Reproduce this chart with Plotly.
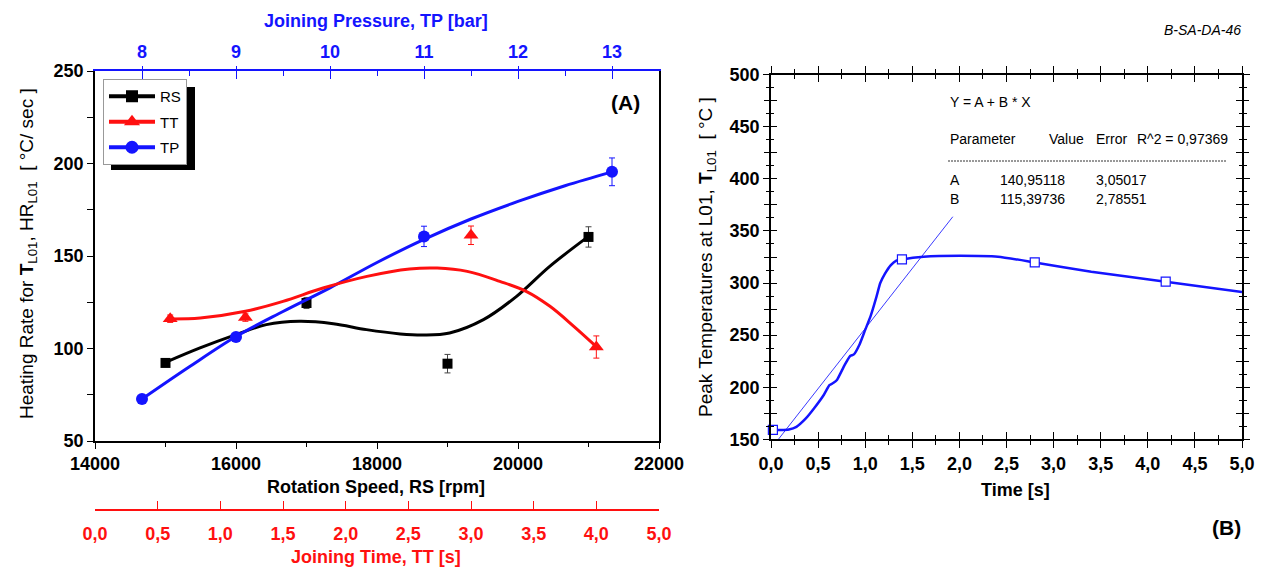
import plotly.graph_objects as go

W, H = 1266, 569
def px(x): return x / W
def py(y): return 1 - y / H

BLUE = "#1414ff"
RED = "#ff1010"
BLACK = "#000000"
FONT = "Liberation Sans, Arial, sans-serif"

# ---------------- Panel A data ----------------
rs_x = [15000, 17000, 19000, 21000]
rs_y = [92.2, 124.6, 91.8, 160.3]
rs_err = [1.5, 3.0, 5.0, 5.5]
rs_fit_x = [15000, 15490, 16000, 16430, 16900, 17380, 17850, 18330, 18660, 19030, 19510, 19980, 20450, 21000]
rs_fit_y = [92.5, 100.3, 107.5, 112.9, 114.7, 113.4, 110.2, 107.9, 107.3, 108.4, 115.6, 128.2, 144.4, 160.6]

tt_x = [0.6, 1.2, 3.0, 4.0]
tt_y = [116.1, 116.7, 161.2, 100.8]
tt_err = [2.0, 2.0, 5.0, 6.0]
tt_fit_x = [0.6, 0.84, 1.2, 1.5, 1.82, 2.17, 2.51, 2.73, 2.97, 3.23, 3.44, 3.63, 3.82, 4.0]
tt_fit_y = [116.0, 116.5, 120.1, 125.5, 132.7, 139.0, 143.0, 143.5, 141.7, 136.3, 130.9, 122.8, 112.0, 101.0]
tt_ticks = [0, 0.5, 1, 1.5, 2, 2.5, 3, 3.5, 4, 4.5]
tt_labels = ["0,0", "0,5", "1,0", "1,5", "2,0", "2,5", "3,0", "3,5", "4,0", "5,0"]

tp_x = [8, 9, 11, 13]
tp_y = [72.7, 106.2, 160.6, 195.5]
tp_err = [1.5, 1.5, 5.5, 7.5]
tp_fit_x = [8, 8.5, 9, 9.5, 10, 10.5, 11, 11.5, 12, 12.5, 13]
tp_fit_y = [72.7, 90.0, 106.5, 120.0, 132.8, 146.5, 159.0, 170.0, 179.5, 188.0, 195.5]

# ---------------- Panel B data ----------------
time_s = [0.0, 0.1, 0.19, 0.27, 0.37, 0.46, 0.56, 0.62, 0.66, 0.70, 0.78, 0.84, 0.88, 0.94,
          1.0, 1.06, 1.12, 1.16, 1.21, 1.27, 1.33, 1.39, 1.62, 2.01, 2.41, 2.80, 3.40, 4.19, 5.0]
temp_c = [159, 159, 159.5, 162, 170, 180, 192.5, 202, 204, 207, 221, 230, 231.5, 241,
          255, 269, 287, 300, 309, 317, 321.5, 322.7, 325.3, 326.2, 325.3, 319.8, 310.9, 301.3, 291.4]
mark_t = [0.02, 1.39, 2.80, 4.19]
mark_temp = [159, 322.7, 319.8, 301.3]
fit_A, fit_B = 140.95118, 115.39736
fit_t = [0.075, 1.93]
fit_temp = [fit_A + fit_B * t for t in fit_t]

fig = go.Figure()

# Panel A fitted curves
fig.add_trace(go.Scatter(x=rs_fit_x, y=rs_fit_y, mode="lines", line=dict(color=BLACK, width=3, shape="spline", smoothing=1.0),
                         xaxis="x", yaxis="y", showlegend=False, hoverinfo="skip"))
fig.add_trace(go.Scatter(x=tt_fit_x, y=tt_fit_y, mode="lines", line=dict(color=RED, width=3, shape="spline", smoothing=1.0),
                         xaxis="x3", yaxis="y", showlegend=False, hoverinfo="skip"))
fig.add_trace(go.Scatter(x=tp_fit_x, y=tp_fit_y, mode="lines", line=dict(color=BLUE, width=3, shape="spline", smoothing=1.0),
                         xaxis="x2", yaxis="y", showlegend=False, hoverinfo="skip"))
# Panel A markers
fig.add_trace(go.Scatter(x=rs_x, y=rs_y, mode="markers", marker=dict(symbol="square", size=10, color=BLACK),
                         error_y=dict(type="data", array=rs_err, color="#444", thickness=1, width=3),
                         xaxis="x", yaxis="y", showlegend=False))
fig.add_trace(go.Scatter(x=tt_x, y=tt_y, mode="markers", marker=dict(symbol="triangle-up", size=13, color=RED),
                         error_y=dict(type="data", array=tt_err, color=RED, thickness=1, width=3),
                         xaxis="x3", yaxis="y", showlegend=False))
fig.add_trace(go.Scatter(x=tp_x, y=tp_y, mode="markers", marker=dict(symbol="circle", size=12, color=BLUE),
                         error_y=dict(type="data", array=tp_err, color=BLUE, thickness=1, width=3),
                         xaxis="x2", yaxis="y", showlegend=False))
# legend entries
for name, col, sym, sz in [("RS", BLACK, "square", 12), ("TT", RED, "triangle-up", 14), ("TP", BLUE, "circle", 13)]:
    fig.add_trace(go.Scatter(x=[None], y=[None], mode="lines+markers", name=name, legendgroup=name,
                             line=dict(color=col, width=4), marker=dict(symbol=sym, size=sz, color=col),
                             xaxis="x", yaxis="y"))

# Panel B
fig.add_trace(go.Scatter(x=fit_t, y=fit_temp, mode="lines", line=dict(color="#3a3aff", width=1),
                         xaxis="x4", yaxis="y2", showlegend=False, hoverinfo="skip"))
fig.add_trace(go.Scatter(x=time_s, y=temp_c, mode="lines", line=dict(color=BLUE, width=2.5, shape="spline", smoothing=0.5),
                         xaxis="x4", yaxis="y2", showlegend=False))
fig.add_trace(go.Scatter(x=mark_t, y=mark_temp, mode="markers",
                         marker=dict(symbol="square", size=9, color="white", line=dict(color=BLUE, width=1.2)),
                         xaxis="x4", yaxis="y2", showlegend=False, cliponaxis=False))
# invisible traces for the extra tick-only axes
for xa, ya in [("x5", "y2"), ("x4", "y3"), ("x4", "y4"), ("x6", "y")]:
    fig.add_trace(go.Scatter(x=[None], y=[None], xaxis=xa, yaxis=ya, showlegend=False))

tickf = dict(family=FONT, size=18, color=BLACK, weight="bold")
domA_x = [px(95), px(659)]
domA_y = [py(441), py(71)]
domB_x = [px(771), px(1242)]
domB_y = [py(439.3), py(74.7)]

common = dict(showgrid=False, zeroline=False, automargin=False)
b_xt = [0, 0.5, 1, 1.5, 2, 2.5, 3, 3.5, 4, 4.5, 5]
b_ylab = [150, 200, 250, 300, 350, 400, 450, 500]
b_yt = [150, 175, 200, 225, 250, 275, 300, 325, 350, 375, 400, 425, 450, 475, 500]

fig.update_layout(
    width=W, height=H, margin=dict(l=0, r=0, t=0, b=0, autoexpand=False),
    paper_bgcolor="white", plot_bgcolor="rgba(0,0,0,0)",
    separators=", ",
    font=dict(family=FONT, color=BLACK),
    xaxis=dict(domain=domA_x, anchor="y", range=[14000, 22000], tickvals=[14000, 16000, 18000, 20000, 22000],
               tickformat="d", ticks="outside", ticklen=6, tickcolor=BLACK, showline=True, linecolor=BLACK, linewidth=1.5,
               minor=dict(dtick=1000, tick0=14000, ticklen=4, ticks="outside", tickcolor=BLACK),
               tickfont=tickf, **common),
    xaxis2=dict(overlaying="x", side="top", anchor="y", range=[7.5, 13.5], tickvals=[8, 9, 10, 11, 12, 13],
                ticks="inside", ticklen=8, tickcolor=BLUE, showline=True, linecolor=BLUE, linewidth=1.5,
                minor=dict(dtick=0.5, tick0=7.5, ticklen=5, ticks="inside", tickcolor=BLUE),
                ticklabelstandoff=4, tickfont=dict(tickf, color=BLUE), **common),
    xaxis6=dict(overlaying="x", side="top", anchor="y", range=[7.5, 13.5], tickvals=[8, 9, 10, 11, 12, 13],
                ticks="outside", ticklen=4, tickcolor=BLUE, showline=False, showticklabels=False, **common),
    xaxis3=dict(overlaying="x", anchor="free", position=py(510), side="bottom", range=[0, 4.5],
                tickvals=tt_ticks, ticktext=tt_labels,
                ticks="inside", ticklen=8, tickcolor=RED, showline=True, linecolor=RED, linewidth=1.5,
                ticklabelstandoff=8, tickfont=dict(tickf, color=RED), **common),
    yaxis=dict(domain=domA_y, anchor="x", range=[50, 250], tickvals=[50, 100, 150, 200, 250],
               ticks="outside", ticklen=6, tickcolor=BLACK, showline=True, mirror=True, linecolor=BLACK, linewidth=1.5,
               minor=dict(dtick=25, tick0=50, ticklen=6, ticks="outside", tickcolor=BLACK),
               tickfont=tickf, **common),
    xaxis4=dict(domain=domB_x, anchor="y2", range=[0, 5], tickvals=b_xt,
                tickformat=".1f", ticks="outside", ticklen=7, tickcolor=BLACK, showline=True, mirror="ticks",
                linecolor=BLACK, linewidth=1.5,
                minor=dict(dtick=0.25, tick0=0, ticklen=4, ticks="outside", tickcolor=BLACK),
                tickfont=tickf, **common),
    xaxis5=dict(overlaying="x4", anchor="y2", range=[0, 5], tickvals=b_xt,
                ticks="inside", ticklen=7, tickcolor=BLACK, showline=False, mirror="ticks", showticklabels=False,
                minor=dict(dtick=0.25, tick0=0, ticklen=4, ticks="inside", tickcolor=BLACK), **common),
    yaxis2=dict(domain=domB_y, anchor="x4", range=[150, 500], tickvals=b_ylab,
                ticks="outside", ticklen=6, tickcolor=BLACK, showline=True, mirror="ticks", linecolor=BLACK, linewidth=1.5,
                minor=dict(dtick=12.5, tick0=150, ticklen=3, ticks="outside", tickcolor=BLACK),
                tickfont=tickf, **common),
    yaxis3=dict(overlaying="y2", anchor="x4", range=[150, 500], tickvals=b_yt,
                ticks="inside", ticklen=6, tickcolor=BLACK, showline=False, mirror="ticks", showticklabels=False,
                minor=dict(dtick=12.5, tick0=150, ticklen=3, ticks="inside", tickcolor=BLACK), **common),
    yaxis4=dict(overlaying="y2", anchor="x4", range=[150, 500], tickvals=b_yt,
                ticks="outside", ticklen=6, tickcolor=BLACK, showline=False, mirror="ticks", showticklabels=False,
                **common),
    legend=dict(x=px(103), y=py(79), xanchor="left", yanchor="top", bgcolor="white", bordercolor="#999",
                borderwidth=1, font=dict(family=FONT, size=15, color=BLACK), tracegroupgap=3,
                traceorder="grouped", itemwidth=46),
    shapes=[dict(type="rect", xref="paper", yref="paper", x0=px(111), x1=px(195), y0=py(170), y1=py(87),
                 fillcolor=BLACK, line=dict(width=0), layer="above")],
)

ann = []
def A(x, y, text, size=18, color=BLACK, bold=False, xanchor="center", angle=0, italic=False):
    f = dict(family=FONT, size=size, color=color)
    if bold: f["weight"] = "bold"
    if italic: f["style"] = "italic"
    ann.append(dict(x=px(x), y=py(y), xref="paper", yref="paper", text=text, showarrow=False,
                    xanchor=xanchor, yanchor="middle", textangle=angle, font=f))

A(376, 21, "Joining Pressure, TP [bar]", bold=True, color=BLUE)
A(376, 487, "Rotation Speed, RS [rpm]", bold=True)
A(376, 557, "Joining Time, TT [s]", bold=True, color=RED)
A(28, 254, "Heating Rate for <b>T</b><sub>L01</sub>, HR<sub>L01</sub>  [ °C/ sec ]", size=19, angle=-90)
A(625, 102, "(A)", size=21, bold=True)
A(707, 257, "Peak Temperatures at L01, <b>T</b><sub>L01</sub>  [ °C ]", size=19, angle=-90)
A(1015, 490, "Time [s]", bold=True)
A(1243, 30, "B-SA-DA-46", size=14, italic=True, xanchor="right")
A(1243, 527, "(B)", size=21, bold=True, xanchor="right")
A(948, 102, "Y = A + B * X", size=14, xanchor="left")
A(948, 139, "Parameter", size=14, xanchor="left")
A(1047, 139, "Value", size=14, xanchor="left")
A(1094, 139, "Error", size=14, xanchor="left")
A(1135, 139, "R^2 = 0,97369", size=14, xanchor="left")
A(948, 180, "A", size=14, xanchor="left")
A(998, 180, "140,95118", size=14, xanchor="left")
A(1094, 180, "3,05017", size=14, xanchor="left")
A(948, 199, "B", size=14, xanchor="left")
A(998, 199, "115,39736", size=14, xanchor="left")
A(1094, 199, "2,78551", size=14, xanchor="left")
fig.update_layout(annotations=ann)
fig.add_shape(type="line", xref="paper", yref="paper", x0=px(948), x1=px(1227), y0=py(161), y1=py(161),
              line=dict(color="#333", width=1, dash="2px,1px"))

fig.write_html("out.html")
